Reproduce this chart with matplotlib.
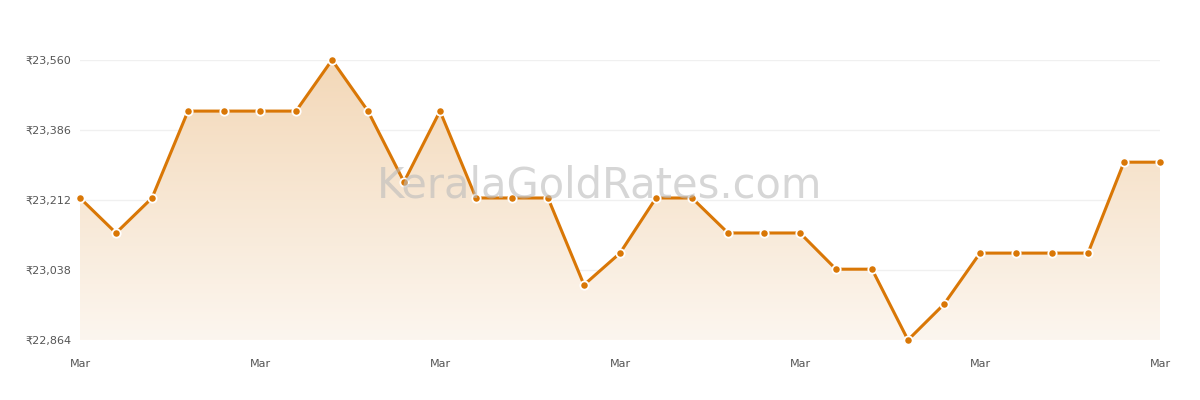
import matplotlib
matplotlib.use("Agg")
import matplotlib.pyplot as plt
import numpy as np
from matplotlib.patches import Polygon

values = [23217, 23130, 23217, 23433, 23433, 23433, 23433, 23560, 23433, 23257,
          23433, 23217, 23217, 23217, 23001, 23080, 23217, 23217, 23130, 23130,
          23130, 23040, 23040, 22864, 22953, 23080, 23080, 23080, 23080, 23306, 23306]
yticks = [22864, 23038, 23212, 23386, 23560]
xtick_pos = [0, 5, 10, 15, 20, 25, 30]
xtick_labels = ["Mar"] * 7

color = "#D97706"
fig = plt.figure(figsize=(12, 4), dpi=100)
ax = fig.add_axes([80/1200, 0.15, 1080/1200, 0.70])
x = np.arange(len(values))
ax.set_xlim(0, len(values) - 1)
ax.set_ylim(yticks[0], yticks[-1])

# gradient fill
grad = np.linspace(0, 1, 256).reshape(-1, 1)
from matplotlib.colors import LinearSegmentedColormap
cmap = LinearSegmentedColormap.from_list("g", ["#fcf6ef", "#f3d8b8"])
im = ax.imshow(grad, cmap=cmap, aspect="auto", origin="lower",
               extent=[0, len(values) - 1, yticks[0], yticks[-1]], zorder=1)
verts = [(0, yticks[0])] + list(zip(x, values)) + [(len(values) - 1, yticks[0])]
poly = Polygon(verts, closed=True, transform=ax.transData, facecolor="none", edgecolor="none")
ax.add_patch(poly)
im.set_clip_path(poly)

ax.plot(x, values, color=color, lw=2.2, zorder=3, clip_on=False)
ax.plot(x, values, "o", ms=6, mfc=color, mec="white", mew=1.3, zorder=4, clip_on=False)

for t in yticks:
    ax.axhline(t, color="#f0f0f0", lw=1, zorder=0)
ax.set_yticks(yticks)
ax.set_yticklabels([f"₹{v:,}" for v in yticks], fontsize=8, color="#555555")
ax.set_xticks(xtick_pos)
ax.set_xticklabels(xtick_labels, fontsize=8, color="#555555")
ax.tick_params(length=0, pad=14, axis="x")
ax.tick_params(length=0, pad=6, axis="y")
for s in ax.spines.values():
    s.set_visible(False)

fig.text(0.5, 0.535, "KeralaGoldRates.com", fontsize=30, color="#bbbbbb", alpha=0.6,
         ha="center", va="center", zorder=10)
fig.savefig("out.png", dpi=100, facecolor="white")
